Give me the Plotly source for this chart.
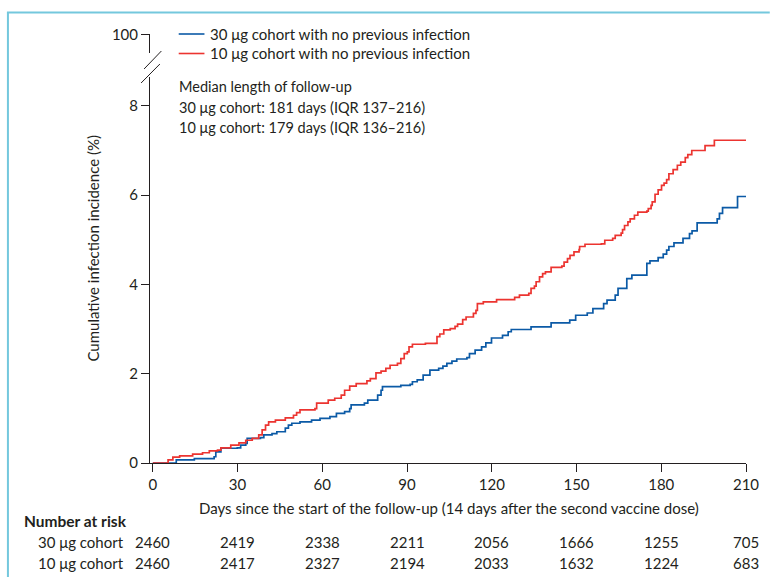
import plotly.graph_objects as go

# ---------------- data ----------------
series_names = ["30 μg cohort with no previous infection",
                "10 μg cohort with no previous infection"]

days_30 = [0, 7.7, 8.3, 14.7, 21.7, 22.3, 24.1, 29.9, 31.1, 32.9, 33.4, 38.1, 39.3, 42.2, 43.9,
           46.9, 48.0, 49.2, 52.1, 56.2, 59.2, 62.7, 65.0, 67.9, 69.7, 70.2, 74.9, 76.1, 79.6,
           80.8, 81.3, 87.8, 91.1, 91.9, 93.6, 95.7, 98.1, 101.2, 102.7, 104.1, 105.9, 107.6,
           111.2, 112.1, 114.1, 116.4, 117.9, 119.9, 123.8, 125.8, 126.9, 133.9, 141.0, 147.6,
           149.7, 153.8, 155.8, 159.6, 160.8, 163.7, 164.7, 167.8, 169.6, 174.9, 176.0, 178.9,
           180.7, 181.9, 182.7, 184.5, 187.7, 190.0, 190.9, 192.7, 199.8, 200.6, 201.7, 207.0, 210]
inc_30 = [0, 0, 0.07, 0.10, 0.14, 0.25, 0.33, 0.34, 0.40, 0.44, 0.55, 0.57, 0.63, 0.66, 0.70,
          0.78, 0.85, 0.89, 0.92, 0.96, 1.00, 1.04, 1.11, 1.15, 1.22, 1.30, 1.34, 1.41, 1.52,
          1.63, 1.71, 1.74, 1.76, 1.82, 1.86, 1.97, 2.08, 2.12, 2.17, 2.23, 2.28, 2.33,
          2.36, 2.45, 2.53, 2.60, 2.69, 2.80, 2.86, 2.94, 2.99, 3.05, 3.14, 3.20,
          3.31, 3.36, 3.46, 3.57, 3.65, 3.76, 3.91, 4.13, 4.21, 4.47, 4.53, 4.60,
          4.68, 4.77, 4.85, 4.93, 5.03, 5.14, 5.20, 5.38, 5.47, 5.59, 5.72, 5.97, 5.97]

days_10 = [0, 4.2, 5.4, 7.1, 9.5, 14.1, 17.6, 20.0, 22.9, 24.1, 27.6, 30.5, 32.9, 35.2, 37.5,
           38.7, 39.9, 41.0, 43.4, 46.9, 49.8, 50.9, 52.1, 57.4, 58.0, 62.1, 64.4, 66.7, 67.9,
           69.7, 72.0, 75.8, 77.0, 79.0, 80.8, 82.5, 84.0, 86.6, 87.8, 89.0, 90.1, 90.7, 91.9,
           96.5, 100.6, 101.6, 103.0, 105.3, 107.0, 107.9, 109.7, 110.9, 113.5, 114.4, 114.9,
           117.0, 121.7, 128.1, 129.8, 133.1, 133.9, 135.1, 135.7, 136.9, 138.0, 139.0, 141.0,
           144.8, 145.6, 146.8, 147.7, 149.1, 150.9, 151.1, 153.0, 158.8, 160.0, 162.8, 163.7,
           165.8, 166.3, 167.0, 168.2, 169.0, 170.5, 171.7, 174.9, 175.4, 176.4, 176.8, 177.8,
           178.9, 180.1, 181.0, 181.9, 182.7, 184.2, 185.7, 186.9, 188.5, 189.4, 190.8, 195.5,
           198.8, 210]
inc_10 = [0, 0, 0.07, 0.13, 0.16, 0.20, 0.23, 0.27, 0.29, 0.34, 0.40, 0.45, 0.51, 0.55, 0.63,
          0.74, 0.85, 0.92, 0.96, 1.01, 1.07, 1.13, 1.19, 1.22, 1.34, 1.41, 1.45, 1.52, 1.63,
          1.72, 1.78, 1.84, 1.89, 2.02, 2.06, 2.12, 2.19, 2.23, 2.34, 2.45, 2.49, 2.60, 2.66,
          2.68, 2.83, 2.89, 2.98, 3.01, 3.06, 3.11, 3.21, 3.27, 3.35, 3.42, 3.57,
          3.61, 3.66, 3.71, 3.76, 3.80, 3.91, 3.96, 4.06, 4.17, 4.24, 4.28, 4.38,
          4.41, 4.50, 4.58, 4.65, 4.73, 4.78, 4.85, 4.90, 4.91, 4.99, 5.03, 5.10,
          5.15, 5.23, 5.32, 5.40, 5.47, 5.55, 5.62, 5.64, 5.70, 5.77, 5.85, 6.02,
          6.12, 6.22, 6.27, 6.35, 6.48, 6.57, 6.67, 6.74, 6.84, 6.91, 7.00, 7.11,
          7.23, 7.23]

x_ticks = [0, 30, 60, 90, 120, 150, 180, 210]
y_tick_vals = [0, 2, 4, 6, 8, 9.6]
y_tick_text = ["0", "2", "4", "6", "8", "100"]

risk_label = "Number at risk"
risk_rows = ["30 μg cohort", "10 μg cohort"]
risk_30 = [2460, 2419, 2338, 2211, 2056, 1666, 1255, 705]
risk_10 = [2460, 2417, 2327, 2194, 2033, 1632, 1224, 683]

follow_up_text = ["Median length of follow-up",
                  "30 μg cohort: 181 days (IQR 137–216)",
                  "10 μg cohort: 179 days (IQR 136–216)"]
x_title = "Days since the start of the follow-up (14 days after the second vaccine dose)"
y_title = "Cumulative infection incidence (%)"

# ---------------- style ----------------
W, H = 771, 577
L, R, T, B = 150, 19, 34, 114
PW, PH = W - L - R, H - T - B
BLUE = "#0b5aa6"
RED = "#ec3430"
INK = "#231f20"
FONT = "Lato"
TS = 15     # text size
NS = 15     # tick size
RS = 15     # risk-table number size


def px(x):
    return (x - L) / PW


def py(y):
    return (H - B - y) / PH


fig = go.Figure()
fig.add_trace(go.Scatter(x=days_30, y=inc_30, mode="lines", line=dict(color=BLUE, width=1.7, shape="hv"),
                         name=series_names[0], showlegend=False))
fig.add_trace(go.Scatter(x=days_10, y=inc_10, mode="lines", line=dict(color=RED, width=1.7, shape="hv"),
                         name=series_names[1], showlegend=False))

annotations = []
shapes = []

# legend
for i, (nm, col) in enumerate(zip(series_names, [BLUE, RED])):
    yy = 34 + 19.5 * i
    shapes.append(dict(type="line", xref="paper", yref="paper", x0=px(179), x1=px(205),
                       y0=py(yy), y1=py(yy), line=dict(color=col, width=1.6)))
    annotations.append(dict(text=nm, xref="paper", yref="paper", x=px(209), y=py(yy),
                            xanchor="left", yanchor="middle", showarrow=False,
                            font=dict(family=FONT, size=TS, color=INK)))

for i, t in enumerate(follow_up_text):
    annotations.append(dict(text=t, xref="paper", yref="paper", x=px(177.5), y=py(86.5 + 20.5 * i),
                            xanchor="left", yanchor="middle", showarrow=False,
                            font=dict(family=FONT, size=14.5, color=INK)))

annotations.append(dict(text=x_title, xref="paper", yref="paper", x=px(452.5), y=py(508),
                        xanchor="center", yanchor="middle", showarrow=False,
                        font=dict(family=FONT, size=TS, color=INK)))
annotations.append(dict(text=y_title, xref="paper", yref="paper", x=px(92), y=py(248),
                        xanchor="center", yanchor="middle", showarrow=False, textangle=-90,
                        font=dict(family=FONT, size=TS, color=INK)))

annotations.append(dict(text="<b>" + risk_label + "</b>", xref="paper", yref="paper", x=px(21), y=py(521),
                        xanchor="left", yanchor="middle", showarrow=False,
                        font=dict(family=FONT, size=15.5, color=INK)))
for r, (lab, vals) in enumerate(zip(risk_rows, [risk_30, risk_10])):
    yy = 542 + 21 * r
    annotations.append(dict(text=lab, xref="paper", yref="paper", x=px(126), y=py(yy),
                            xanchor="right", yanchor="middle", showarrow=False,
                            font=dict(family=FONT, size=TS, color=INK)))
    for d, v in zip(x_ticks, vals):
        annotations.append(dict(text=str(v), xref="x", yref="paper", x=d, y=py(yy),
                                xanchor="center", yanchor="middle", showarrow=False,
                                font=dict(family=FONT, size=RS, color=INK)))

# axis break: cover axis and draw slashes
shapes.append(dict(type="line", xref="paper", yref="paper", x0=0, x1=0, y0=py(53), y1=py(77),
                   line=dict(color="white", width=4), layer="above"))
shapes.append(dict(type="line", xref="paper", yref="paper", x0=px(144), x1=px(161.5), y0=py(69), y1=py(51),
                   line=dict(color=INK, width=1), layer="above"))
shapes.append(dict(type="line", xref="paper", yref="paper", x0=px(141), x1=px(160), y0=py(83), y1=py(64),
                   line=dict(color=INK, width=1), layer="above"))

# page frame
FRAME = "#74c8dd"
shapes.append(dict(type="line", xref="paper", yref="paper", x0=px(6.5), x1=px(6.5), y0=py(12.5), y1=py(H + 5),
                   line=dict(color=FRAME, width=2)))
shapes.append(dict(type="line", xref="paper", yref="paper", x0=px(5.5), x1=px(W + 5), y0=py(12.5), y1=py(12.5),
                   line=dict(color=FRAME, width=2)))

fig.update_layout(
    width=W, height=H,
    margin=dict(l=L, r=R, t=T, b=B),
    paper_bgcolor="white", plot_bgcolor="white",
    font=dict(family=FONT, size=TS, color=INK),
    annotations=annotations, shapes=shapes,
    showlegend=False,
)
fig.update_xaxes(range=[-1, 210], tickvals=x_ticks, ticks="outside", ticklen=8, tickwidth=1,
                 tickcolor=INK, showline=True, linecolor=INK, linewidth=1, showgrid=False,
                 zeroline=False, tickfont=dict(family=FONT, size=NS, color=INK))
fig.update_yaxes(range=[0, 9.61], tickvals=y_tick_vals, ticktext=y_tick_text, ticks="outside", ticklen=8,
                 tickwidth=1, tickcolor=INK, showline=True, linecolor=INK, linewidth=1, showgrid=False,
                 zeroline=False, tickfont=dict(family=FONT, size=NS, color=INK))

fig.write_html("out.html", config={"displayModeBar": False},
               post_script="document.body.style.margin='0px';document.body.style.overflow='hidden';")
